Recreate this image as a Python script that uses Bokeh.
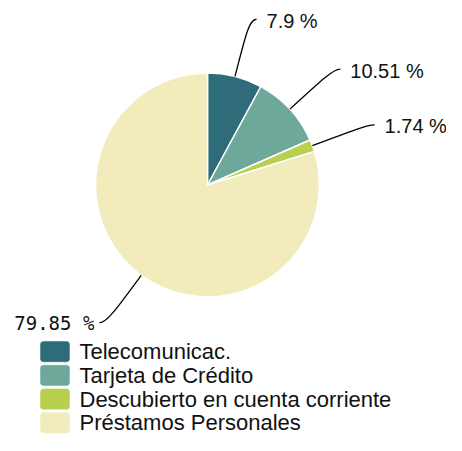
import math
from bokeh.plotting import figure
from bokeh.models import Range1d, ColumnDataSource
from bokeh.core.properties import value
from bokeh.embed import file_html
from bokeh.resources import INLINE

categories = ["Telecomunicac.", "Tarjeta de Crédito", "Descubierto en cuenta corriente", "Préstamos Personales"]
percents = [7.9, 10.51, 1.74, 79.85]
colors = ["#2D6C78", "#6DA89A", "#B8CF4F", "#F2ECBD"]
labels = [f"{v} %" for v in percents]

W, H = 446, 435
def px(x):
    return x
def py(y):
    return H - y

p = figure(width=W, height=H, output_backend="svg", toolbar_location=None,
           x_range=Range1d(0, W), y_range=Range1d(0, H), min_border=0)
p.axis.visible = False
p.grid.visible = False
p.outline_line_color = None
p.background_fill_color = "white"

cx, cy, r = px(207), py(184.5), 112
total = sum(percents)
starts, ends, mids = [], [], []
acc = 0.0
for v in percents:
    a0 = math.pi / 2 - acc / total * 2 * math.pi
    acc += v
    a1 = math.pi / 2 - acc / total * 2 * math.pi
    starts.append(a0)
    ends.append(a1)
    mids.append((a0 + a1) / 2)

src = ColumnDataSource(dict(start=starts, end=ends, color=colors))
p.wedge(x=cx, y=cy, radius=r, radius_units="screen", start_angle="start", end_angle="end",
        direction="clock", fill_color="color", line_color="white", line_width=1.5, source=src)

# leader lines
R2 = 171
x0s, y0s, x1s, y1s, c0x, c0y, c1x, c1y = [], [], [], [], [], [], [], []
tx_r, ty_r, tt_r = [], [], []
tx_l, ty_l, tt_l = [], [], []
for m, lab in zip(mids, labels):
    ex, ey = cx + r * math.cos(m), cy + r * math.sin(m)
    bx, by = cx + R2 * math.cos(m), cy + R2 * math.sin(m)
    mx, my = cx + 157 * math.cos(m), cy + 157 * math.sin(m)
    sgn = 1 if math.cos(m) >= 0 else -1
    tx, ty = bx + sgn * 7, by
    x0s.append(ex); y0s.append(ey); x1s.append(tx); y1s.append(ty)
    c0x.append(mx); c0y.append(my); c1x.append(bx); c1y.append(by)
    if sgn > 0:
        tx_r.append(tx + 10); ty_r.append(ty - 1.5); tt_r.append(lab)
    else:
        tx_l.append(tx - 5); ty_l.append(ty); tt_l.append(lab)

p.bezier(x0=x0s, y0=y0s, x1=x1s, y1=y1s, cx0=c0x, cy0=c0y, cx1=c1x, cy1=c1y,
         line_color="black", line_width=1.3)
p.text(x=tx_r, y=ty_r, text=tt_r, text_font=value("Liberation Sans"), text_font_size="20px",
       text_align="left", text_baseline="middle", text_color="#111111")
p.text(x=tx_l, y=ty_l, text=tt_l, text_font=value("DejaVu Sans Mono"), text_font_size="19px",
       text_align="right", text_baseline="middle", text_color="#111111")

# legend
lt, step, sh = 341.0, 23.7, 20.3
tops = [py(lt + i * step) for i in range(len(categories))]
bottoms = [t - sh for t in tops]
mids_y = [t - sh / 2 for t in tops]
p.quad(left=px(40), right=px(69), top=tops, bottom=bottoms, fill_color=colors,
       line_color=colors, line_width=0.5, border_radius=3)
p.text(x=[px(79)] * len(categories), y=mids_y, text=categories,
       text_font=value("Liberation Sans"), text_font_size="22px", text_align="left",
       text_baseline="middle", text_color="#111111")

open("out.html", "w").write(file_html(p, INLINE))
